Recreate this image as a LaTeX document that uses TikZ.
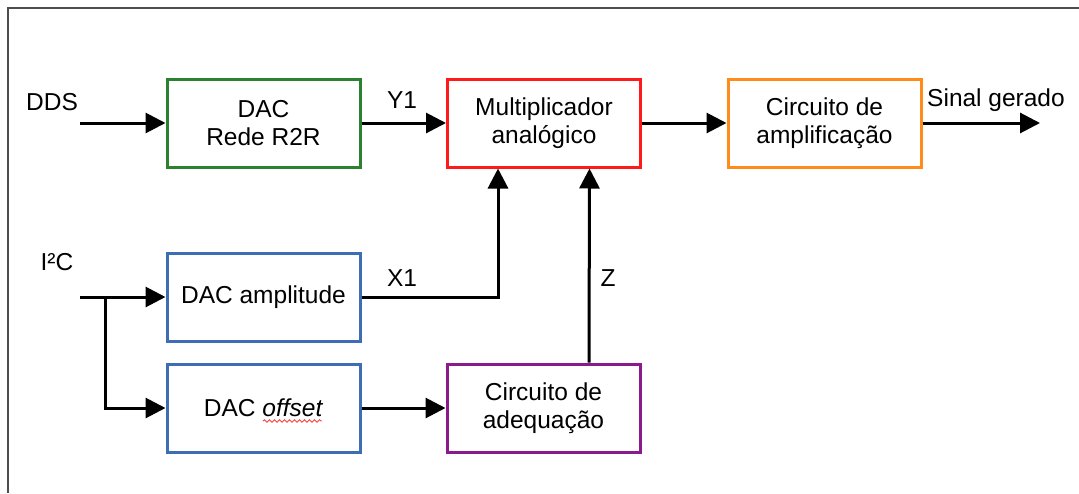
\documentclass[tikz,border=0pt]{standalone}
\usepackage{fontspec}
\setmainfont{Liberation Sans}
\usetikzlibrary{arrows.meta,decorations.pathmorphing}
\definecolor{framegray}{HTML}{4D4D4D}
\definecolor{r2rgreen}{HTML}{2A8230}
\definecolor{multred}{HTML}{FF1A1A}
\definecolor{amporange}{HTML}{FF8C1A}
\definecolor{dacblue}{HTML}{3E6DB5}
\definecolor{adqpurple}{HTML}{8B1A8B}
\begin{document}
\begin{tikzpicture}[x=1pt,y=-1pt,
  blk/.style={draw, line width=3pt, minimum width=193pt, minimum height=88pt,
              inner sep=0pt, align=center, font=\fontsize{24.5}{27.5}\selectfont},
  lbl/.style={inner sep=0pt, font=\fontsize{24.5}{27.5}\selectfont},
  conn/.style={line width=3pt, -{Triangle[length=20pt,width=20pt]}}]
\useasboundingbox (0,0) rectangle (1079,493);

% outer frame
\draw[framegray, line width=2.2pt] (8,493) -- (8,8) -- (1079,8);

% blocks
\node[blk, draw=r2rgreen]  (r2r)   at (263.5,123) {DAC\\Rede R2R};
\node[blk, draw=multred]   (mult)  at (544,123)   {Multiplicador\\analógico};
\node[blk, draw=amporange] (amp)   at (824.5,123) {Circuito de\\amplificação};
\node[blk, draw=dacblue]   (dacam) at (263.5,297) {DAC amplitude};
\node[blk, draw=dacblue]   (dacof) at (263.5,408) {DAC \textit{offset}};
\node[blk, draw=adqpurple] (adeq)  at (543.5,408) {Circuito de\\adequação};

% spell-check underline under "offset"
\draw[red!75, line width=0.9pt, decorate,
      decoration={snake, amplitude=1.2pt, segment length=5pt}] (263,421) -- (322,421);

% signal labels
\node[lbl] (ldds) at (52,102)  {DDS};
\node[lbl] (li2c) at (57,262)  {I²C};
\node[lbl] (ly1)  at (402,100) {Y1};
\node[lbl] (lx1)  at (402,278) {X1};
\node[lbl] (lz)   at (608,278) {Z};
\node[lbl] (lout) at (996,100) {Sinal gerado};

% connectors
\coordinate (ddsin) at (80,123);
\coordinate (i2cin) at (80,297);
\coordinate (split) at (105,297);
\coordinate (sigout) at (1040,123);

\draw[conn] (ddsin) -- (r2r.west);
\draw[conn] (r2r.east) -- (mult.west);
\draw[conn] (mult.east) -- (amp.west);
\draw[conn] (amp.east) -- (sigout);
\draw[conn] (i2cin) -- (dacam.west);
\draw[conn] (split) |- (dacof.west);
\draw[conn] (dacam.east) -| ([xshift=-46pt]mult.south);
\draw[conn] ([xshift=45.5pt]adeq.north) -- ([xshift=45.5pt]mult.south);
\draw[conn] (dacof.east) -- (adeq.west);
\end{tikzpicture}
\end{document}
